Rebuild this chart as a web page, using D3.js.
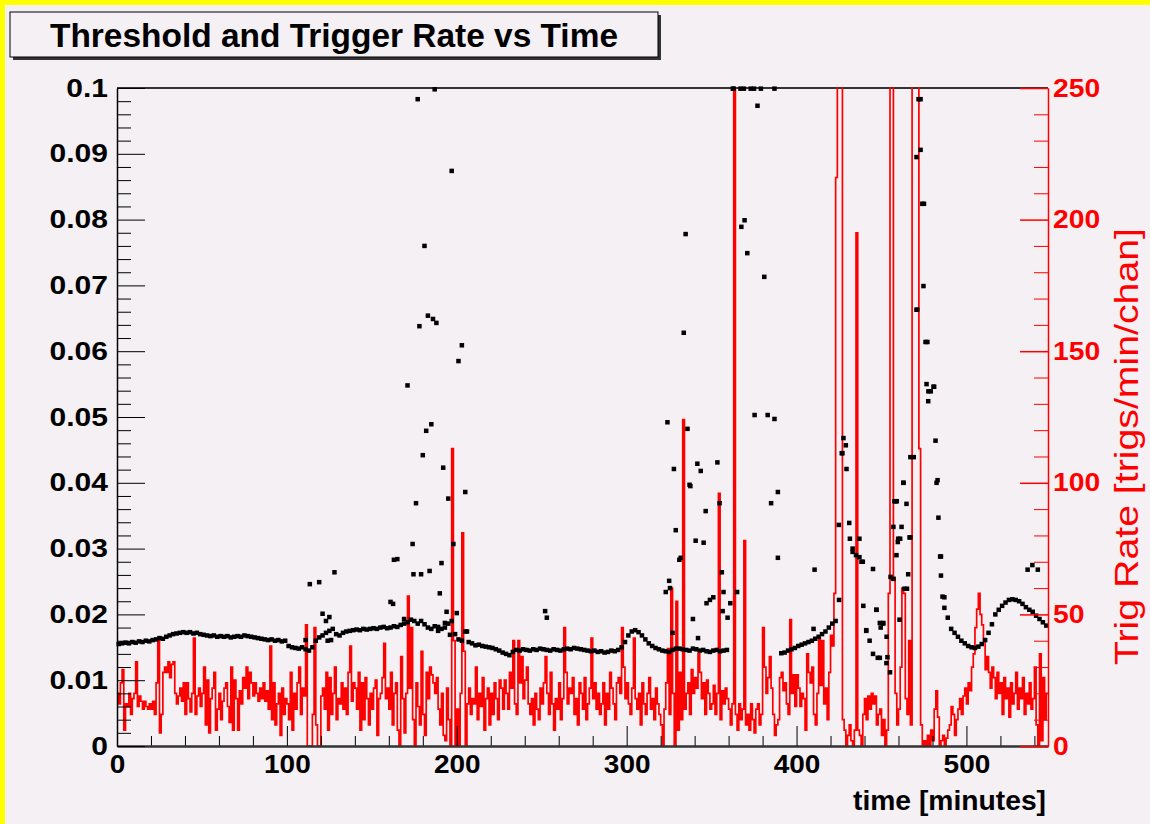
<!DOCTYPE html>
<html>
<head>
<meta charset="utf-8">
<script src="https://cdn.jsdelivr.net/npm/d3@7"></script>
<style>
  body { margin: 0; background: #f4f0f4; }
  text { font-family: "Liberation Sans", Arial, sans-serif; }
</style>
</head>
<body>
<svg id="canvas"></svg>
<script>
// trigger rate per minute bin (trigs/min/chan), bins start at minute 0
let rateValues = [
  20,16,24,29,6,16,15,20,12,18,20,32,15,19,17,14,17,15,14,16,
  14,17,12,24,41,5,12,28,30,28,32,26,31,32,20,16,19,22,17,24,
  12,24,18,13,20,41,12,19,22,15,20,30,8,25,5,18,22,28,6,14,
  20,10,17,22,24,15,9,30,6,25,18,6,21,16,26,22,30,18,28,24,
  19,24,20,17,22,18,24,17,21,14,38,10,24,8,16,20,4,22,12,18,
  16,10,28,6,20,14,24,30,12,22,19,46,0,0,0,12,45,8,0,0,
  19,22,14,28,6,26,12,20,30,10,18,16,24,14,22,12,28,38,17,24,
  22,14,28,6,24,10,26,18,8,20,14,22,25,4,18,20,26,39,18,22,
  14,28,8,20,24,6,0,34,18,5,20,57,22,45,10,0,24,15,8,36,
  12,4,28,18,30,27,24,20,26,14,8,20,4,2,22,10,0,113,40,0,
  14,0,20,81,36,0,16,22,12,18,16,30,10,20,15,26,6,18,22,8,
  20,12,24,18,10,25,22,14,25,20,14,28,22,40,16,12,40,24,34,18,
  25,30,16,12,18,8,20,14,10,22,16,24,34,20,12,28,16,6,18,14,
  24,10,18,45,28,16,22,20,26,12,18,8,24,20,14,26,10,16,22,41,
  18,24,14,20,12,16,24,8,20,14,28,22,16,10,24,26,20,45,30,18,
  24,16,12,22,41,18,14,20,8,24,16,12,20,26,14,18,10,22,16,12,
  8,0,14,24,37,12,60,20,0,55,6,28,10,124,14,20,24,12,29,20,
  26,22,35,28,18,24,12,25,20,14,16,23,12,20,96,10,21,16,22,18,
  14,8,16,320,12,6,16,10,14,78,8,12,6,16,10,5,14,16,8,12,
  45,30,20,26,34,22,12,4,8,10,26,28,21,24,16,12,48,20,27,15,
  27,22,15,20,18,6,35,28,24,30,12,8,20,41,23,40,16,22,10,28,
  42,38,58,216,320,320,300,10,6,0,4,8,2,0,6,195,6,4,0,12,
  18,10,19,14,20,16,19,8,12,14,4,10,0,6,58,330,340,64,20,8,
  14,30,60,58,18,12,40,8,330,340,330,330,113,8,0,2,0,4,0,6,
  2,14,21,11,0,2,4,0,3,6,8,15,12,4,10,14,18,12,19,22,
  16,24,21,30,35,45,52,58,50,46,40,29,34,28,22,30,26,18,28,20,
  24,12,26,18,22,11,24,16,20,28,14,22,18,26,12,20,16,24,14,18,
  30,8,0,35,2,26,10,20
];

// threshold, one reading every 2 minutes starting at minute 0
let thrValues = [
  .0155,.0156,.0157,.0156,.0158,.0157,.0159,.0158,.0160,.0159,
  .0161,.0162,.0164,.0163,.0166,.0168,.0170,.0171,.0172,.0173,
  .0172,.0173,.0171,.0172,.0170,.0169,.0168,.0167,.0168,.0166,
  .0167,.0166,.0167,.0165,.0166,.0167,.0166,.0168,.0167,.0166,
  .0165,.0164,.0163,.0162,.0161,.0162,.0160,.0161,.0159,.0160,
  .0152,.0150,.0149,.0148,.0150,.0147,.0145,.0150,.0160,.0165,
  .0168,.0172,.0175,.0178,.0170,.0168,.0172,.0174,.0175,.0176,
  .0177,.0176,.0178,.0177,.0178,.0179,.0178,.0180,.0181,.0179,
  .0180,.0182,.0181,.0184,.0186,.0188,.0192,.0190,.0186,.0190,
  .0185,.0180,.0178,.0182,.0175,.0178,.0180,.0186,.0190,.0170,
  .0162,.0160,.0174,.0158,.0156,.0153,.0154,.0152,.0151,.0150,
  .0149,.0147,.0145,.0142,.0140,.0138,.0143,.0146,.0145,.0147,
  .0146,.0145,.0147,.0146,.0148,.0147,.0146,.0145,.0147,.0146,
  .0145,.0147,.0148,.0147,.0149,.0148,.0147,.0146,.0145,.0144,
  .0145,.0143,.0144,.0142,.0143,.0145,.0144,.0146,.0150,.0158,
  .0168,.0174,.0176,.0173,.0168,.0162,.0156,.0152,.0149,.0147,
  .0145,.0144,.0143,.0146,.0148,.0148,.0147,.0146,.0145,.0148,
  .0147,.0145,.0146,.0144,.0143,.0145,.0146,.0144,.0145,.0146,
  .0217,.0999,.0234,.0999,.0999,.0749,.0999,.0999,.0973,.0999,
  .0713,.0503,.0369,.0999,.0286,.0141,.0142,.0145,.0147,.0149,
  .0152,.0154,.0156,.0158,.0160,.0163,.0166,.0170,.0174,.0180,
  .0186,.0190,.0222,.0445,.0457,.0339,.0300,.0290,.0287,.0280,
  .0175,.0160,.0140,.0207,.0134,.0187,.0166,.0112,.0254,.0372,
  .0315,.0400,.0239,.0317,.0439,.0663,.0983,.0824,.0614,.0539,
  .0546,.0404,.0288,.0226,.0195,.0178,.0172,.0166,.0160,.0156,
  .0152,.0150,.0149,.0151,.0155,.0161,.0172,.0185,.0200,.0207,
  .0213,.0218,.0222,.0223,.0222,.0220,.0216,.0211,.0207,.0204,
  .0198,.0193,.0188,.0183
];

// extra threshold readings in the noisy stretches
let outTimes = [
  111,113.5,119,121,123,124,125,126,128,
  161,162.5,163,165,169,
  171,174,174.5,176,177,178,179,180,181,182,183,184,185,186,187,188,189,190,
  191,192,193,194,195,196,197,198,200,201,203,205,206,
  252,253,
  323,324,325,325.5,327,327.8,328.9,331,331.8,333.6,334.7,335.8,337,337.5,339,
  340.6,341.6,342,343.6,345.3,346.5,347,349,351,353.4,354.7,356,356.5,357,359.4,
  362.5,367.5,369.4,375.3,387,389,
  410,410.6,
  424.9,426.6,427.6,429.4,431.4,433,437,438.2,439.3,441,445,447,447.8,449,449.5,
  451,452.9,453.5,455.3,457,457.6,458.4,458.8,459.6,459.8,460.6,461.8,462.8,463.5,
  464.7,465.7,466.5,467,470.6,470.6,471.8,473,474,474.7,475.9,476.5,477.5,477.6,
  480.6,481.8,482.4,483.5,484.5,485,485.9,487,
  536,538.8,542
];
let outValues = [
  .0161,.0246,.0249,.0201,.0190,.0160,.0196,.0161,.0264,
  .0219,.0216,.0283,.0284,.0193,
  .0548,.0307,.0261,.0369,.0983,.0638,.0261,.0442,.0760,.0479,.0654,.0266,.0489,.0649,.0998,.0643,.0181,.0232,
  .0278,.0423,.0187,.0204,.0376,.0169,.0874,.0307,.0202,.0585,.0609,.0386,.0174,
  .0205,.0195,
  .0234,.0492,.0251,.0240,.0172,.0421,.0328,.0283,.0286,.0628,.0778,.0482,.0397,.0395,.0193,
  .0312,.0429,.0164,.0418,.0309,.0357,.0217,.0222,.0226,.0431,.0369,.0264,.0205,.0234,.0195,
  .0999,.0789,.0799,.0503,.0497,.0386,
  .0178,.0268,
  .0336,.0445,.0468,.0421,.0315,.0295,.0315,.0280,.0213,.0176,.0269,.0207,.0134,.0187,.0180,
  .0186,.0126,.0135,.0257,.0333,.0372,.0372,.0290,.0310,.0315,.0192,.0333,.0400,.0239,
  .0368,.0261,.0317,.0439,.0895,.0663,.0983,.0906,.0824,.0699,.0614,.0550,.0524,.0539,
  .0546,.0464,.0400,.0347,.0288,.0259,.0227,.0210,
  .0268,.0275,.0268
];

let timeMajor = [0, 100, 200, 300, 400, 500];
let thrMajor = [0, 0.01, 0.02, 0.03, 0.04, 0.05, 0.06, 0.07, 0.08, 0.09, 0.1];
let thrLabels = ['0', '0.01', '0.02', '0.03', '0.04', '0.05', '0.06', '0.07', '0.08', '0.09', '0.1'];
let rateMajor = [0, 50, 100, 150, 200, 250];

let width = 1150;
let height = 824;
let plotLeft = 117, plotRight = 1048, plotTop = 88, plotBottom = 746;
let timeMax = 548;
let bg = '#f4f0f4';

let canvas = d3.select('#canvas').attr('width', width).attr('height', height);

canvas.append('rect').attr('width', width).attr('height', height).attr('fill', bg);
// yellow pad border
canvas.append('rect').attr('x', 0).attr('y', 0).attr('width', width).attr('height', 5).attr('fill', '#ffff00');
canvas.append('rect').attr('x', 0).attr('y', 0).attr('width', 5).attr('height', height).attr('fill', '#ffff00');

let xScale = d3.scaleLinear().domain([0, timeMax]).range([plotLeft, plotRight]);
let yThr = d3.scaleLinear().domain([0, 0.1]).range([plotBottom, plotTop]);
let yRate = d3.scaleLinear().domain([0, 250]).range([plotBottom, plotTop]);

// wide ROOT-style lettering: stretch each label sideways
let widen = (sel, k) => sel.each(function () {
    let w = this.getComputedTextLength();
    d3.select(this).attr('textLength', w * k).attr('lengthAdjust', 'spacingAndGlyphs');
});

canvas.append('clipPath').attr('id', 'frameClip')
      .append('rect').attr('x', plotLeft).attr('y', plotTop - 1)
      .attr('width', plotRight - plotLeft).attr('height', plotBottom - plotTop + 1);

// frame top line
canvas.append('line').attr('x1', plotLeft).attr('x2', plotRight).attr('y1', plotTop).attr('y2', plotTop)
      .attr('stroke', '#333').attr('stroke-width', 2);

// red histogram
let histPoints = rateValues.map((v, i) => [i, v]);
histPoints.push([rateValues.length, rateValues[rateValues.length - 1]]);
let histLine = d3.line()
                 .x(d => xScale(d[0]))
                 .y(d => yRate(d[1]))
                 .curve(d3.curveStepAfter);
canvas.append('path')
      .attr('clip-path', 'url(#frameClip)')
      .attr('d', histLine(histPoints))
      .attr('fill', 'none')
      .attr('stroke', '#ff0000')
      .attr('stroke-width', 1.7);

// threshold markers
let thrPoints = thrValues.map((v, i) => [i * 2 + 1, v]);
outTimes.forEach((t, i) => thrPoints.push([t, outValues[i]]));
canvas.append('g').selectAll('rect')
      .data(thrPoints)
      .enter()
      .append('rect')
      .attr('x', d => xScale(d[0]) - 2.25)
      .attr('y', d => yThr(d[1]) - 2.25)
      .attr('width', 4.5)
      .attr('height', 4.5)
      .attr('fill', '#000');

// bottom axis
let minorTime = d3.range(20, timeMax, 20).filter(d => d % 100 !== 0);
canvas.append('g')
      .attr('transform', 'translate(0,' + plotBottom + ')')
      .call(d3.axisBottom(xScale).tickValues(minorTime).tickSizeInner(-10).tickSizeOuter(0).tickFormat(''));
let xAxis = canvas.append('g')
      .attr('id', 'x-axis')
      .attr('transform', 'translate(0,' + plotBottom + ')')
      .call(d3.axisBottom(xScale).tickValues(timeMajor).tickSizeInner(-20).tickSizeOuter(0).tickPadding(9).tickFormat(d3.format('d')));
xAxis.selectAll('text').attr('font-size', 25).attr('font-weight', 'bold').attr('fill', '#000')
     .call(widen, 1.12);

// left axis
let minorThr = d3.range(1, 50).filter(d => d % 5 !== 0).map(d => d * 0.002);
canvas.append('g')
      .attr('transform', 'translate(' + plotLeft + ',0)')
      .call(d3.axisLeft(yThr).tickValues(minorThr).tickSizeInner(-14).tickSizeOuter(0).tickFormat(''));
let yAxis = canvas.append('g')
      .attr('id', 'y-axis')
      .attr('transform', 'translate(' + plotLeft + ',0)')
      .call(d3.axisLeft(yThr).tickValues(thrMajor).tickSizeInner(-28).tickSizeOuter(0).tickPadding(9)
              .tickFormat((d, i) => thrLabels[i]));
yAxis.selectAll('text').attr('font-size', 25).attr('font-weight', 'bold').attr('fill', '#000')
     .call(widen, 1.2);

// right axis (red)
let minorRate = d3.range(10, 250, 10).filter(d => d % 50 !== 0);
canvas.append('g')
      .attr('transform', 'translate(' + plotRight + ',0)')
      .call(d3.axisRight(yRate).tickValues(minorRate).tickSizeInner(-14).tickSizeOuter(0).tickFormat(''))
      .call(g => g.selectAll('line,path').attr('stroke', '#ff0000'));
let rAxis = canvas.append('g')
      .attr('transform', 'translate(' + plotRight + ',0)')
      .call(d3.axisRight(yRate).tickValues(rateMajor).tickSizeInner(-28).tickSizeOuter(0).tickPadding(5))
      .call(g => g.selectAll('line,path').attr('stroke', '#ff0000').attr('stroke-width', 1.5));
rAxis.selectAll('text').attr('font-size', 25).attr('font-weight', 'bold').attr('fill', '#ff0000')
     .call(widen, 1.13);

canvas.selectAll('#x-axis path').attr('stroke', '#333').attr('stroke-width', 2.5);
canvas.selectAll('#y-axis path').attr('stroke', '#000').attr('stroke-width', 1.5);

// axis titles
canvas.append('text')
      .attr('x', 1046).attr('y', 810)
      .attr('text-anchor', 'end')
      .attr('font-size', 27).attr('font-weight', 'bold')
      .attr('textLength', 193).attr('lengthAdjust', 'spacingAndGlyphs')
      .text('time [minutes]');
canvas.append('text')
      .attr('transform', 'translate(1138,665) rotate(-90)')
      .attr('font-size', 33).attr('fill', '#ff0000')
      .attr('textLength', 437).attr('lengthAdjust', 'spacingAndGlyphs')
      .text('Trig Rate [trigs/min/chan]');

// title box with shadow
canvas.append('rect').attr('x', 13).attr('y', 15).attr('width', 648).attr('height', 45).attr('fill', '#333');
canvas.append('rect').attr('x', 10).attr('y', 12).attr('width', 648).attr('height', 45)
      .attr('fill', bg).attr('stroke', '#000').attr('stroke-width', 1);
canvas.append('text')
      .attr('x', 50).attr('y', 47)
      .attr('font-size', 33).attr('font-weight', 'bold')
      .attr('textLength', 568).attr('lengthAdjust', 'spacingAndGlyphs')
      .text('Threshold and Trigger Rate vs Time');
</script>
</body>
</html>
